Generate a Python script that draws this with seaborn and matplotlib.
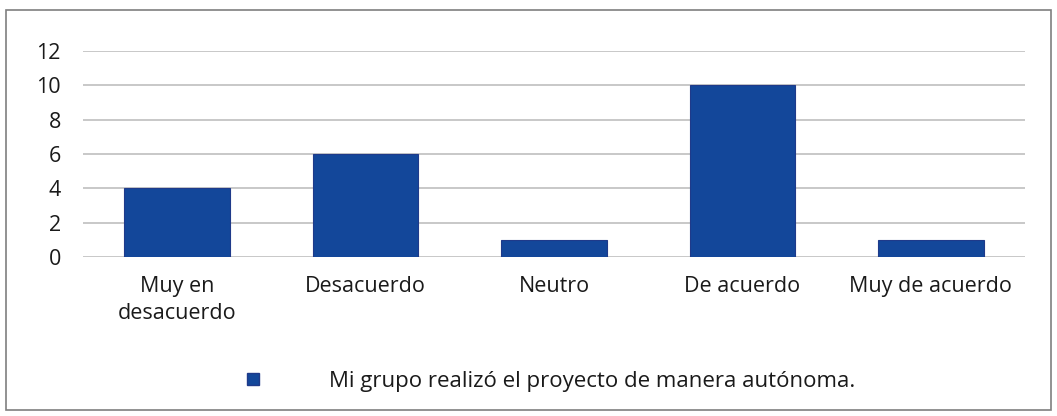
import matplotlib
matplotlib.use("Agg")
import matplotlib.pyplot as plt
import seaborn as sns
import pandas as pd
from matplotlib.patches import Rectangle
from matplotlib.lines import Line2D

categories = ["Muy en\ndesacuerdo", "Desacuerdo", "Neutro", "De acuerdo", "Muy de acuerdo"]
values = [4, 6, 1, 10, 1]
series_name = "Mi grupo realizó el proyecto de manera autónoma."
yticks = [0, 2, 4, 6, 8, 10, 12]

sns.set_theme(style="white")
plt.rcParams['font.family'] = ['Open Sans', 'DejaVu Sans']

df = pd.DataFrame({"cat": categories, "val": values})

fig = plt.figure(figsize=(10.57, 4.16), dpi=100)
ax = fig.add_axes([83/1057, 1-257/416, (1025-83)/1057, (257-51)/416])

color = "#13479A"
sns.barplot(data=df, x="cat", y="val", color=color, width=0.56, ax=ax,
            edgecolor="#1F3A8A", linewidth=0.8, saturation=1, zorder=3)

ax.set_ylim(0, 12)
ax.set_yticks(yticks)
ax.set_xlim(-0.5, 4.5)
ax.yaxis.grid(True, color="#BFBFBF", linewidth=1.2, zorder=0)
ax.set_axisbelow(True)
for s in ax.spines.values():
    s.set_visible(False)
ax.set_xlabel("")
ax.set_ylabel("")
ax.tick_params(axis="y", length=0, pad=16, labelsize=15.5, labelcolor="#1a1a1a")
ax.tick_params(axis="x", length=0, pad=14, labelsize=15.5, labelcolor="#1a1a1a")
for lbl in ax.get_xticklabels():
    lbl.set_linespacing(1.35)

handle = Line2D([], [], marker="s", linestyle="none", markersize=8,
                markerfacecolor=color, markeredgecolor="#1F3A8A")
fig.legend([handle], [series_name], loc="center", bbox_to_anchor=(543/1057, 1-381/416),
           frameon=False, fontsize=16, handletextpad=2.4, labelcolor="#1a1a1a")

fig.patches.append(Rectangle((6/1057, 6/416), 1-12/1057, 1-16/416, transform=fig.transFigure,
                             fill=False, edgecolor="#7F7F7F", linewidth=1.2))

fig.savefig("out.png", dpi=100, facecolor="white")
